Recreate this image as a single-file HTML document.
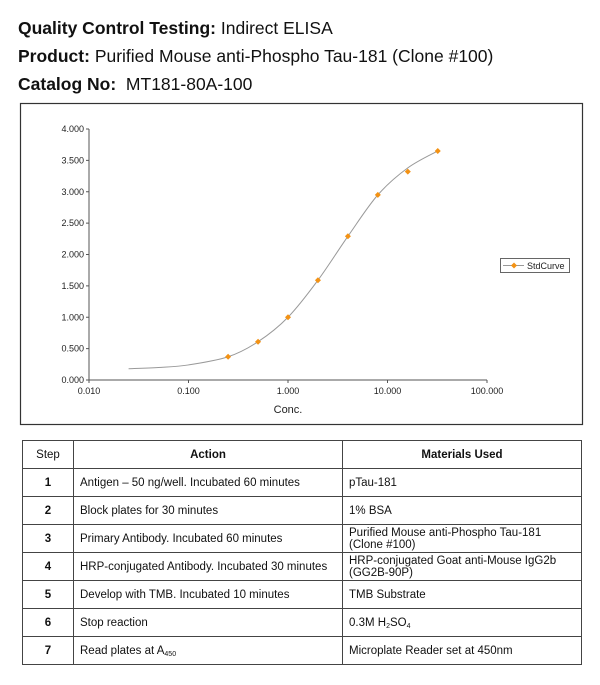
<!DOCTYPE html>
<html><head><meta charset="utf-8"><style>
body{margin:0;width:600px;height:685px;background:#fff;font-family:"Liberation Sans",sans-serif;position:relative;overflow:hidden}
.h{position:absolute;left:18px;font-size:17.5px;color:#111;white-space:nowrap}
.h b{font-weight:bold}
table{position:absolute;left:22px;top:440px;width:560px;border-collapse:collapse;font-size:11.5px;color:#111}
td,th{border:1px solid #444;padding:0 6px;height:27px;line-height:12px}
th{height:27px}
td:first-child,th:first-child{text-align:center;width:38px;font-weight:bold}
th:first-child{font-weight:normal}
td:nth-child(2){width:256px}
.s{font-size:7px;position:relative;top:2px;line-height:0}
</style></head><body>
<div class="h" style="top:18px"><b>Quality Control Testing:</b> Indirect ELISA</div>
<div class="h" style="top:46px"><b>Product:</b> Purified Mouse anti-Phospho Tau-181 (Clone #100)</div>
<div class="h" style="top:74px"><b>Catalog No:</b>&nbsp; MT181-80A-100</div>
<svg id="chart" style="position:absolute;left:0;top:0" width="600" height="435" font-family="Liberation Sans, sans-serif">
<rect x="20.5" y="103.5" width="562" height="321" fill="#fff" stroke="#333" stroke-width="1.2"/>
</svg>
<table>
<tr><th>Step</th><th>Action</th><th>Materials Used</th></tr>
<tr><td>1</td><td>Antigen – 50 ng/well. Incubated 60 minutes</td><td>pTau-181</td></tr>
<tr><td>2</td><td>Block plates for 30 minutes</td><td>1% BSA</td></tr>
<tr><td>3</td><td>Primary Antibody. Incubated 60 minutes</td><td>Purified Mouse anti-Phospho Tau-181<br>(Clone #100)</td></tr>
<tr><td>4</td><td>HRP-conjugated Antibody. Incubated 30 minutes</td><td>HRP-conjugated Goat anti-Mouse IgG2b<br>(GG2B-90P)</td></tr>
<tr><td>5</td><td>Develop with TMB. Incubated 10 minutes</td><td>TMB Substrate</td></tr>
<tr><td>6</td><td>Stop reaction</td><td>0.3M H<span class="s">2</span>SO<span class="s">4</span></td></tr>
<tr><td>7</td><td>Read plates at A<span class="s">450</span></td><td>Microplate Reader set at 450nm</td></tr>
</table>
<script>
const conc=[0.25,0.5,1,2,4,8,16,32];
const od=[0.37,0.61,1.0,1.59,2.29,2.95,3.32,3.65];
const curveConc=[0.025,0.05,0.1,0.25,0.5,1,2,4,8,16,32];
const curveOd=[0.18,0.20,0.24,0.37,0.61,1.0,1.59,2.29,2.95,3.38,3.65];
const yTicks=[0,0.5,1,1.5,2,2.5,3,3.5,4];
const xTicks=[0.01,0.1,1,10,100];
const yLabels=["0.000","0.500","1.000","1.500","2.000","2.500","3.000","3.500","4.000"];
const xLabels=["0.010","0.100","1.000","10.000","100.000"];
const svg=document.getElementById('chart');const NS='http://www.w3.org/2000/svg';
const X=v=>89+(Math.log10(v)+2)*99.5;
const Y=v=>380-v*62.75;
function mk(t,a){const e=document.createElementNS(NS,t);for(const k in a)e.setAttribute(k,a[k]);svg.appendChild(e);return e;}
let e=mk('line',{x1:89,y1:Y(4),x2:89,y2:380,stroke:'#555'});


e=mk('line',{x1:89,y1:380,x2:X(100),y2:380,stroke:'#555'});


yTicks.forEach((v,i)=>{mk('line',{x1:86,x2:89,y1:Y(v),y2:Y(v),stroke:'#555'});
const t=mk('text',{x:84,y:Y(v)+3,'font-size':9,'text-anchor':'end',fill:'#222'});t.textContent=yLabels[i];

});
xTicks.forEach((v,i)=>{mk('line',{x1:X(v),x2:X(v),y1:380,y2:383,stroke:'#555'});
const t=mk('text',{x:X(v),y:394,'font-size':9,'text-anchor':'middle',fill:'#222'});t.textContent=xLabels[i];

});
e=mk('text',{x:288,y:413,'font-size':11,'text-anchor':'middle',fill:'#222'});e.textContent='Conc.';


const P=curveConc.map((c,i)=>[X(c),Y(curveOd[i])]);
let d='M'+P[0][0]+','+P[0][1];
for(let i=0;i<P.length-1;i++){const p0=P[i-1]||P[i],p1=P[i],p2=P[i+1],p3=P[i+2]||p2;
d+=` C${p1[0]+(p2[0]-p0[0])/6},${p1[1]+(p2[1]-p0[1])/6} ${p2[0]-(p3[0]-p1[0])/6},${p2[1]-(p3[1]-p1[1])/6} ${p2[0]},${p2[1]}`;}
e=mk('path',{d:d,fill:'none',stroke:'#999','stroke-width':1});


conc.forEach((c,i)=>{const cx=X(c),cy=Y(od[i]);
const p=mk('polygon',{points:`${cx},${cy-3} ${cx+3},${cy} ${cx},${cy+3} ${cx-3},${cy}`,fill:'#f39214'});

});
const g=mk('rect',{x:500.5,y:258.5,width:69,height:14,fill:'#fff',stroke:'#666'});


mk('line',{x1:503,x2:524,y1:265.5,y2:265.5,stroke:'#999'});
mk('polygon',{points:'514,262.5 517,265.5 514,268.5 511,265.5',fill:'#f39214'});
e=mk('text',{x:527,y:269,'font-size':9,fill:'#222'});e.textContent='StdCurve';


</script>
</body></html>
